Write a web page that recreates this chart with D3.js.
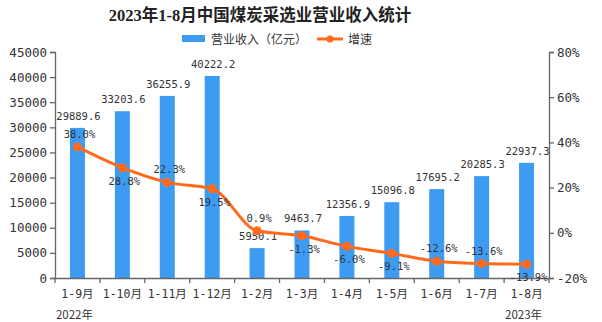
<!DOCTYPE html>
<html><head><meta charset="utf-8">
<script src="https://cdn.jsdelivr.net/npm/d3@7"></script>
<style>
body{margin:0;background:#fff;}
svg{display:block;}
</style></head>
<body><svg id="c" width="602" height="322"></svg>
<script>
const categories = ["1-9月","1-10月","1-11月","1-12月","1-2月","1-3月","1-4月","1-5月","1-6月","1-7月","1-8月"];
const revenue = [29889.6,33203.6,36255.9,40222.2,5950.1,9463.7,12356.9,15096.8,17695.2,20285.3,22937.3];
const growth = [38.0,28.8,22.3,19.5,0.9,-1.3,-6.0,-9.1,-12.6,-13.6,-13.9];
const growthLabelSide = ["above","below","above","below","above","below","below","below","above","above","below"];
const leftTicks = [0,5000,10000,15000,20000,25000,30000,35000,40000,45000];
const rightTicks = [-20,0,20,40,60,80];
const yearLabels = [{text:"2022年", cat:0},{text:"2023年", cat:10}];
const title = "2023年1-8月中国煤炭采选业营业收入统计";
const legendBar = "营业收入（亿元）";
const legendLine = "增速";

const svg = d3.select("#c");
const W=602,H=322;
const m = {left:55, right:53, top:52, bottom:44};
const x0 = m.left, x1 = W - m.right, yTop = m.top, yBot = H - m.bottom;
const blue = "#3D9BF2", orange = "#FF6A1F", axisCol = "#666", txt = "#333";
const numFont = "'DejaVu Sans Mono', monospace";
const cjkFont = "'DejaVu Sans Mono','Noto Sans CJK SC',sans-serif";

const x = d3.scaleBand().domain(categories).range([x0,x1]).paddingInner(0).paddingOuter(0);
const yL = d3.scaleLinear().domain([0,45000]).range([yBot,yTop]);
const yR = d3.scaleLinear().domain([-20,80]).range([yBot,yTop]);

// title
svg.append("text").attr("x",260).attr("y",21).attr("text-anchor","middle")
  .style("font-family","'Liberation Serif','Noto Sans CJK SC',serif").style("font-weight","bold")
  .style("font-size","16.5px").attr("fill","#222").text(title);

// legend
const lg = svg.append("g");
lg.append("rect").attr("x",182).attr("y",35).attr("width",23).attr("height",7).attr("fill",blue);
lg.append("text").attr("x",211).attr("y",43.5).style("font-family","'Noto Sans CJK SC',sans-serif")
  .style("font-size","12px").attr("fill",txt).text(legendBar);
lg.append("line").attr("x1",317).attr("x2",343).attr("y1",39).attr("y2",39).attr("stroke",orange).attr("stroke-width",3);
lg.append("circle").attr("cx",330).attr("cy",39).attr("r",3.5).attr("fill",orange);
lg.append("text").attr("x",348).attr("y",43.5).style("font-family","'Noto Sans CJK SC',sans-serif")
  .style("font-size","12px").attr("fill",txt).text(legendLine);

// bars
const bw = 15;
svg.append("g").selectAll("rect").data(revenue).join("rect")
  .attr("x",(d,i)=>x(categories[i])+x.bandwidth()/2-bw/2)
  .attr("y",d=>yL(d)).attr("width",bw).attr("height",d=>yBot-yL(d)).attr("fill",blue);

// axes
const axL = d3.axisLeft(yL).tickValues(leftTicks).tickSize(5).tickFormat(d3.format("d"));
const gL = svg.append("g").attr("transform",`translate(${x0},0)`).call(axL);
const axR = d3.axisRight(yR).tickValues(rightTicks).tickSize(5).tickFormat(d=>d+"%");
const gR = svg.append("g").attr("transform",`translate(${x1},0)`).call(axR);
const axB = d3.axisBottom(x).tickSize(0).tickPadding(12);
const gB = svg.append("g").attr("transform",`translate(0,${yBot})`).call(axB);
// bottom boundary ticks
svg.append("g").selectAll("line").data(d3.range(categories.length+1)).join("line")
  .attr("x1",i=>x0+i*x.step()).attr("x2",i=>x0+i*x.step())
  .attr("y1",yBot).attr("y2",yBot+5).attr("stroke",axisCol).attr("stroke-width",1.3);

[gL,gR,gB].forEach(g=>{
  g.select(".domain").attr("stroke",axisCol).attr("stroke-width",1.3);
  g.selectAll(".tick line").attr("stroke",axisCol).attr("stroke-width",1.3);
  g.selectAll("text").attr("fill",txt);
});
gL.selectAll("text").style("font-family",numFont).style("font-size","12.5px");
gR.selectAll("text").style("font-family",numFont).style("font-size","12.5px");
gB.selectAll("text").style("font-family",cjkFont).style("font-size","11.5px");

// year labels
svg.append("g").selectAll("text").data(yearLabels).join("text")
  .attr("x",d=>x(categories[d.cat])+x.bandwidth()/2-3).attr("y",319).attr("text-anchor","middle")
  .style("font-family","'Noto Sans CJK SC',sans-serif").style("font-size","11.5px").attr("fill",txt)
  .text(d=>d.text);

// bar labels
svg.append("g").selectAll("text").data(revenue).join("text")
  .attr("x",(d,i)=>x(categories[i])+x.bandwidth()/2+1).attr("y",d=>yL(d)-8)
  .attr("text-anchor","middle").style("font-family",numFont).style("font-size","10.5px")
  .attr("fill",txt).text(d=>d.toFixed(1));

// line
const pts = growth.map((g,i)=>[x(categories[i])+x.bandwidth()/2, yR(g)]);
svg.append("path").datum(pts).attr("d",d3.line().curve(d3.curveMonotoneX))
  .attr("fill","none").attr("stroke",orange).attr("stroke-width",3);
svg.append("g").selectAll("circle").data(pts).join("circle")
  .attr("cx",d=>d[0]).attr("cy",d=>d[1]).attr("r",4.5).attr("fill",orange);

// growth labels
svg.append("g").selectAll("text").data(growth).join("text")
  .attr("x",(d,i)=>pts[i][0]+2)
  .attr("y",(d,i)=>pts[i][1] + (growthLabelSide[i]==="above" ? -9 : 17))
  .attr("text-anchor","middle").style("font-family",numFont).style("font-size","10.5px")
  .attr("fill",txt).text(d=>d.toFixed(1)+"%");
</script></body></html>
